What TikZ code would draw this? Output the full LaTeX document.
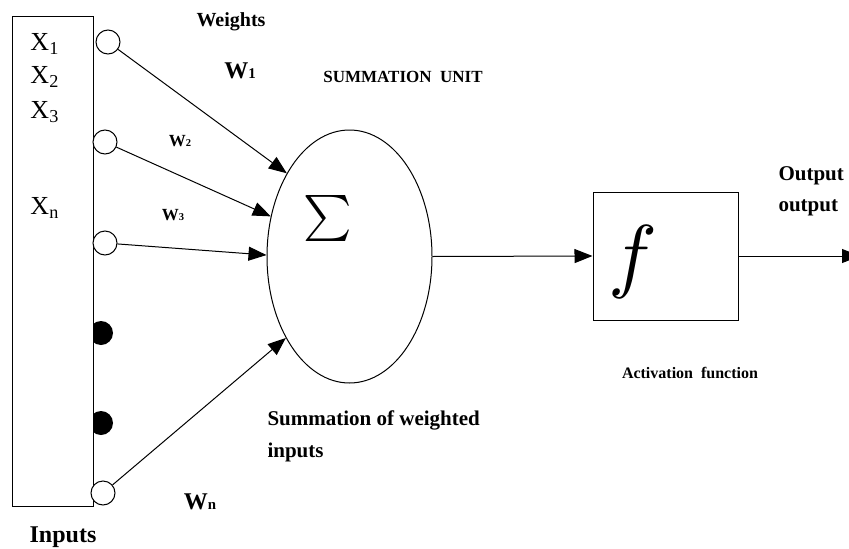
\documentclass[tikz,border=0pt]{standalone}
\usepackage{fontspec}
\setmainfont{Liberation Serif}
\usetikzlibrary{arrows.meta,shapes.geometric}
\newcommand\setfs[1]{\fontsize{#1}{#1}\selectfont}
\newcommand\lowidx[1]{\scalebox{0.62}{#1}}
\begin{document}
\begin{tikzpicture}[x=1pt,y=-1pt, line width=1pt,
  tip/.style={-{Triangle[length=18pt,width=14pt]}},
  opencirc/.style={circle,draw,fill=white,minimum size=24pt,inner sep=0pt},
  dotc/.style={circle,fill=black,minimum size=24pt,inner sep=0pt},
  lbl/.style={inner sep=0pt,font=\bfseries},
  xlbl/.style={inner sep=0pt,anchor=west,font=\setfs{26}},
]
\useasboundingbox (0,0) rectangle (849,549);
% filled dots (behind the input box)
\node[dotc] (d1) at (101,333) {};
\node[dotc] (d2) at (101,423) {};
% input box
\node[draw,fill=white,minimum width=81pt,minimum height=490pt,inner sep=0pt] (inbox) at (52.5,261) {};
% open circles
\node[opencirc] (c1) at (108,42) {};
\node[opencirc] (c2) at (105,142) {};
\node[opencirc] (c3) at (105,243) {};
\node[opencirc] (cn) at (103,493) {};
% summation unit
\node[ellipse,draw,minimum width=165pt,minimum height=253pt,inner sep=0pt] (sum) at (349.5,256.5) {};
\node[inner sep=0pt] (sigma) at (328,218) {\scalebox{4.6}{$\sum$}};
% activation box
\node[draw,minimum width=145pt,minimum height=128pt,inner sep=0pt] (fbox) at (665.5,256) {};
\node[inner sep=0pt] (ftxt) at (633,262) {\scalebox{8.2}{$f$}};
\coordinate (outend) at (860,253);
% connectors
\draw[tip] (c1) -- (sum.127.5);
\draw[tip] (c2) -- (sum.153);
\draw[tip] (c3) -- (sum.179);
\draw[tip] (cn) -- (sum.232.5);
\draw[tip] (sum.east) -- (fbox.west);
\draw[tip] (fbox.east) -- (fbox.east -| outend);
% labels
\node[xlbl] (x1) at (30,44) {X\textsubscript{1}};
\node[xlbl] (x2) at (30,77) {X\textsubscript{2}};
\node[xlbl] (x3) at (30,112) {X\textsubscript{3}};
\node[xlbl] (xn) at (30,208) {X\textsubscript{n}};
\node[lbl,font=\bfseries\setfs{20}] (weights) at (231,22) {Weights};
\node[lbl,font=\bfseries\setfs{24}] (w1) at (240,71) {W\lowidx{1}};
\node[lbl,font=\bfseries\setfs{17}] (w2) at (180,141) {W\lowidx{2}};
\node[lbl,font=\bfseries\setfs{17}] (w3) at (173,215) {W\lowidx{3}};
\node[lbl,font=\bfseries\setfs{24}] (wn) at (200,502) {W\lowidx{n}};
\node[lbl,font=\bfseries\setfs{17}] (sumunit) at (403,77) {SUMMATION\ \ UNIT};
\node[lbl,font=\bfseries\fontsize{21}{32}\selectfont,anchor=north west,align=left] (sumtxt) at (267,410) {Summation of weighted\\inputs};
\node[lbl,font=\bfseries\setfs{16}] (act) at (690,373) {Activation\ \ function};
\node[lbl,font=\bfseries\setfs{21},anchor=west] (out1) at (778,176) {Output};
\node[lbl,font=\bfseries\setfs{21},anchor=west] (out2) at (778,208) {output};
\node[lbl,font=\bfseries\setfs{24}] (inputs) at (63,537) {Inputs};
\end{tikzpicture}
\end{document}
